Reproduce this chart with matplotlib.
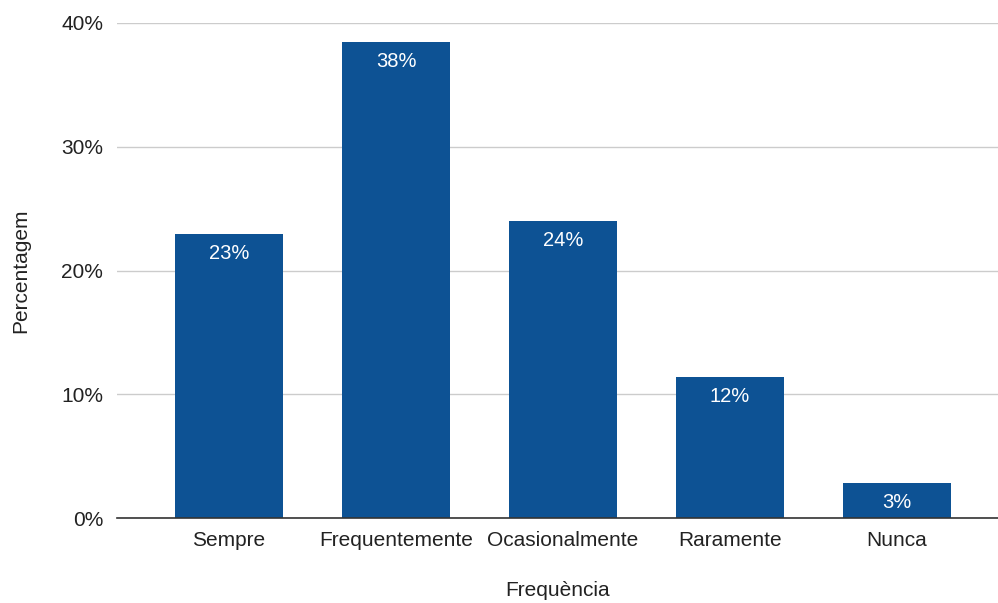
import matplotlib
matplotlib.use("Agg")
import matplotlib.pyplot as plt
from matplotlib.ticker import FuncFormatter

categories = ["Sempre", "Frequentemente", "Ocasionalmente", "Raramente", "Nunca"]
values = [22.95, 38.46, 24.0, 11.4, 2.85]
labels = ["23%", "38%", "24%", "12%", "3%"]
yticks = [0, 10, 20, 30, 40]

plt.rcParams['font.family'] = ['Liberation Sans', 'DejaVu Sans']

fig = plt.figure(figsize=(9.98, 6.03), dpi=100)
ax = fig.add_axes([117/998, 1-518/603, (998-117)/998, (518-23)/603])

x = list(range(len(categories)))
bars = ax.bar(x, values, width=0.647, color="#0d5294", zorder=3)
for xi, v, lab in zip(x, values, labels):
    ax.text(xi, v - 1.6, lab, ha="center", va="center", color="white",
            fontsize=14.5, zorder=4)

ax.set_xlim(-0.671, 4.605)
ax.set_ylim(0, 40)
ax.set_yticks(yticks)
ax.yaxis.set_major_formatter(FuncFormatter(lambda v, p: f"{int(v)}%"))
ax.set_xticks(x)
ax.set_xticklabels(categories)
ax.grid(axis="y", color="#cccccc", linewidth=1, zorder=0)
for s in ["top", "right", "left"]:
    ax.spines[s].set_visible(False)
ax.spines["bottom"].set_color("#333333")
ax.spines["bottom"].set_linewidth(1.2)
ax.spines["bottom"].set_zorder(5)
ax.tick_params(axis="both", length=0, labelsize=15, colors="#222222")
ax.tick_params(axis="y", pad=10)
ax.tick_params(axis="x", pad=9)
ax.set_ylabel("Percentagem", fontsize=15, color="#222222", labelpad=22)
ax.set_xlabel("Frequència", fontsize=15, color="#222222", labelpad=23)

fig.savefig("out.png", dpi=100)
